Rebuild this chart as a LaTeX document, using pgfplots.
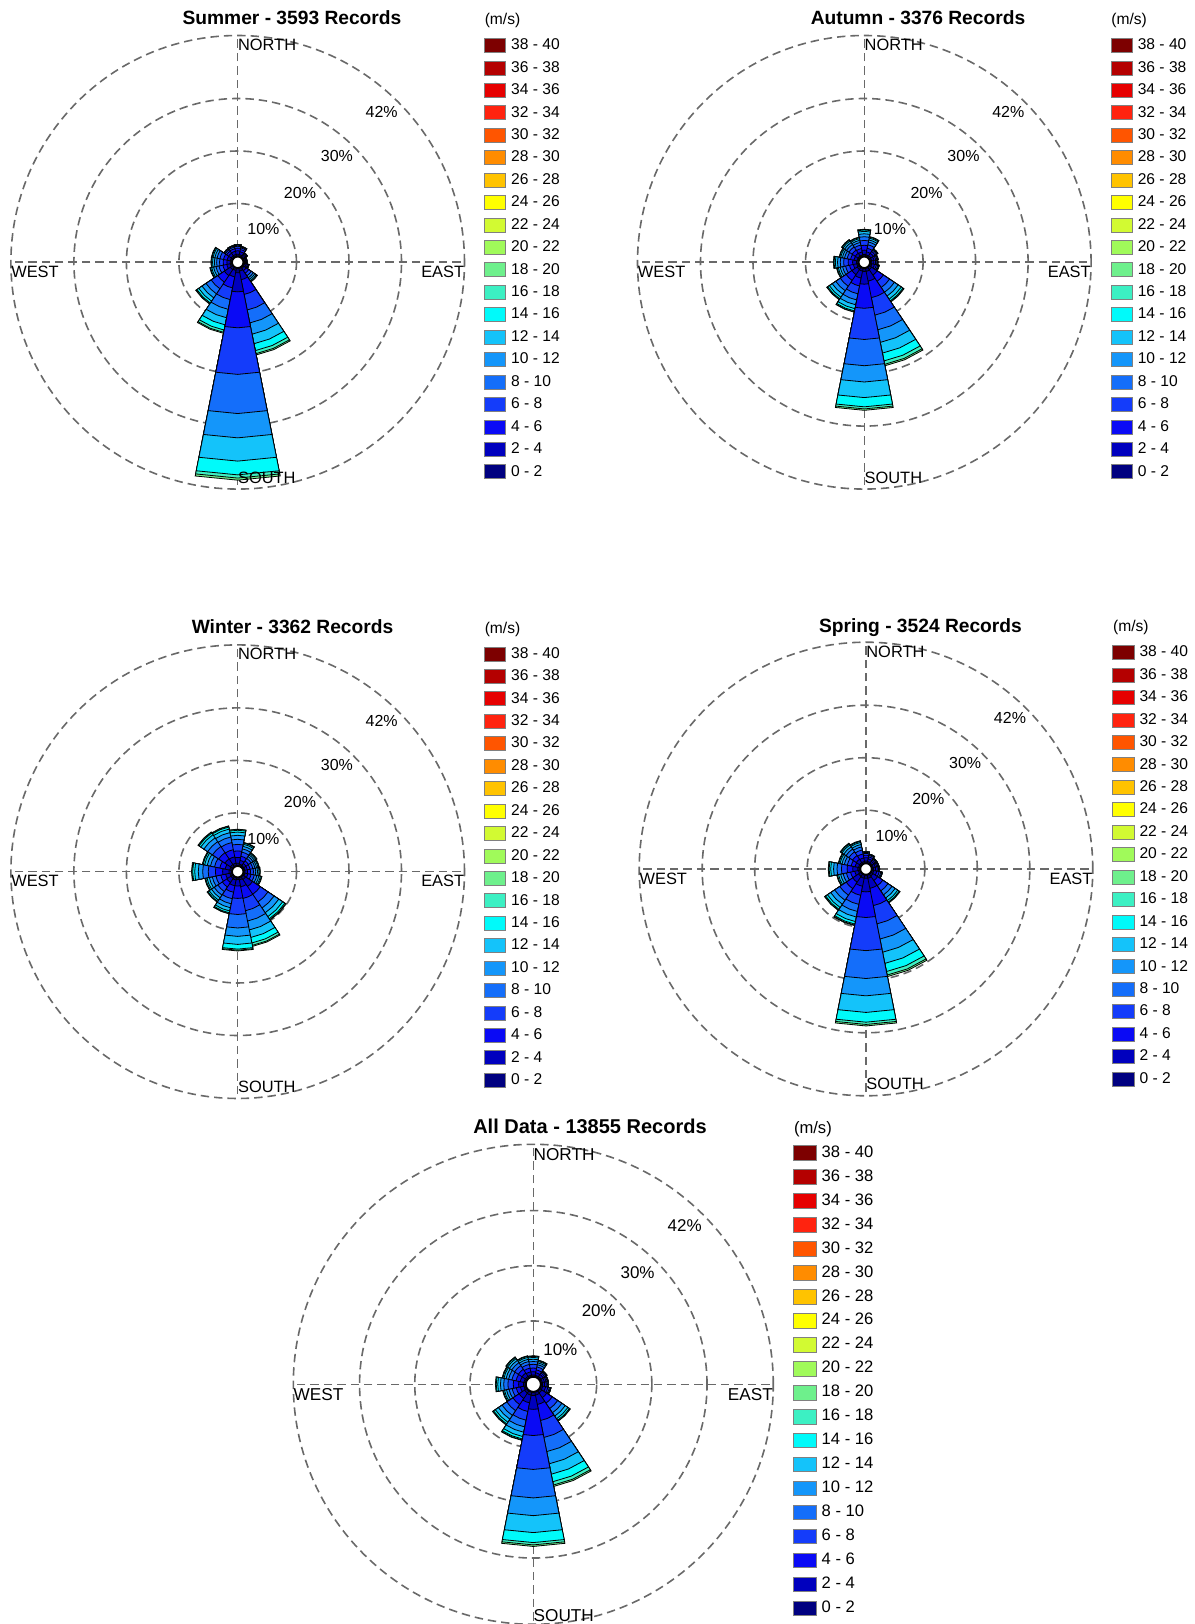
\documentclass[border=0pt]{standalone}
\usepackage{pgfplots}
\pgfplotsset{compat=1.18}
\usepackage{pgfplotstable}
\usepgfplotslibrary{polar}
\usepackage{fontspec}
\setmainfont{Liberation Sans}

\definecolor{L0}{RGB}{0,0,128}
\definecolor{L2}{RGB}{0,0,190}
\definecolor{L4}{RGB}{10,10,245}
\definecolor{L6}{RGB}{20,60,250}
\definecolor{L8}{RGB}{20,110,250}
\definecolor{L10}{RGB}{20,150,250}
\definecolor{L12}{RGB}{20,195,250}
\definecolor{L14}{RGB}{0,250,250}
\definecolor{L16}{RGB}{60,240,195}
\definecolor{L18}{RGB}{110,240,140}
\definecolor{L20}{RGB}{160,250,90}
\definecolor{L22}{RGB}{210,250,50}
\definecolor{L24}{RGB}{255,255,0}
\definecolor{L26}{RGB}{255,195,0}
\definecolor{L28}{RGB}{255,140,0}
\definecolor{L30}{RGB}{255,85,0}
\definecolor{L32}{RGB}{255,35,15}
\definecolor{L34}{RGB}{230,0,0}
\definecolor{L36}{RGB}{180,0,0}
\definecolor{L38}{RGB}{125,0,0}
\definecolor{gridgray}{RGB}{105,105,105}

% a = compass direction of the sector edge/centre (deg), c1..c10 = cumulative percent up to 2,4,...,20 m/s
\pgfplotstableread{
a c1 c2 c3 c4 c5 c6 c7 c8 c9 c10
-11.25 0 0 0 0 0 0 0 0 0 0
-11.25 0.33 0.99 1.50 1.85 2.05 2.13 2.18 2.2 2.2 2.2
0 0.33 0.99 1.50 1.85 2.05 2.13 2.18 2.2 2.2 2.2
11.25 0.33 0.99 1.50 1.85 2.05 2.13 2.18 2.2 2.2 2.2
11.25 0 0 0 0 0 0 0 0 0 0
11.25 0.29 0.86 1.29 1.60 1.77 1.84 1.88 1.9 1.9 1.9
22.5 0.29 0.86 1.29 1.60 1.77 1.84 1.88 1.9 1.9 1.9
33.75 0.29 0.86 1.29 1.60 1.77 1.84 1.88 1.9 1.9 1.9
33.75 0 0 0 0 0 0 0 0 0 0
33.75 0.15 0.45 0.68 0.84 0.93 0.97 0.99 1.0 1.0 1.0
45 0.15 0.45 0.68 0.84 0.93 0.97 0.99 1.0 1.0 1.0
56.25 0.15 0.45 0.68 0.84 0.93 0.97 0.99 1.0 1.0 1.0
56.25 0 0 0 0 0 0 0 0 0 0
56.25 0.09 0.27 0.41 0.50 0.56 0.58 0.59 0.6 0.6 0.6
67.5 0.09 0.27 0.41 0.50 0.56 0.58 0.59 0.6 0.6 0.6
78.75 0.09 0.27 0.41 0.50 0.56 0.58 0.59 0.6 0.6 0.6
78.75 0 0 0 0 0 0 0 0 0 0
78.75 0.09 0.27 0.41 0.50 0.56 0.58 0.59 0.6 0.6 0.6
90 0.09 0.27 0.41 0.50 0.56 0.58 0.59 0.6 0.6 0.6
101.25 0.09 0.27 0.41 0.50 0.56 0.58 0.59 0.6 0.6 0.6
101.25 0 0 0 0 0 0 0 0 0 0
101.25 0.15 0.45 0.68 0.84 0.93 0.97 0.99 1.0 1.0 1.0
112.5 0.15 0.45 0.68 0.84 0.93 0.97 0.99 1.0 1.0 1.0
123.75 0.15 0.45 0.68 0.84 0.93 0.97 0.99 1.0 1.0 1.0
123.75 0 0 0 0 0 0 0 0 0 0
123.75 0.20 0.73 1.32 1.91 2.38 2.74 3.04 3.20 3.27 3.3
135 0.20 0.73 1.32 1.91 2.38 2.74 3.04 3.20 3.27 3.3
146.25 0.20 0.73 1.32 1.91 2.38 2.74 3.04 3.20 3.27 3.3
146.25 0 0 0 0 0 0 0 0 0 0
146.25 0.50 2.18 5.04 8.06 10.58 12.77 14.62 15.96 16.55 16.8
157.5 0.50 2.18 5.04 8.06 10.58 12.77 14.62 15.96 16.55 16.8
168.75 0.50 2.18 5.04 8.06 10.58 12.77 14.62 15.96 16.55 16.8
168.75 0 0 0 0 0 0 0 0 0 0
168.75 0.81 4.43 11.28 20.15 27.61 32.24 36.67 39.29 39.90 40.3
180 0.81 4.43 11.28 20.15 27.61 32.24 36.67 39.29 39.90 40.3
191.25 0.81 4.43 11.28 20.15 27.61 32.24 36.67 39.29 39.90 40.3
191.25 0 0 0 0 0 0 0 0 0 0
191.25 0.38 1.64 3.78 6.05 7.94 9.58 10.96 11.97 12.41 12.6
202.5 0.38 1.64 3.78 6.05 7.94 9.58 10.96 11.97 12.41 12.6
213.75 0.38 1.64 3.78 6.05 7.94 9.58 10.96 11.97 12.41 12.6
213.75 0 0 0 0 0 0 0 0 0 0
213.75 0.50 1.85 3.36 4.87 6.05 6.97 7.73 8.15 8.32 8.4
225 0.50 1.85 3.36 4.87 6.05 6.97 7.73 8.15 8.32 8.4
236.25 0.50 1.85 3.36 4.87 6.05 6.97 7.73 8.15 8.32 8.4
236.25 0 0 0 0 0 0 0 0 0 0
236.25 0.25 0.92 1.68 2.44 3.02 3.49 3.86 4.07 4.16 4.2
247.5 0.25 0.92 1.68 2.44 3.02 3.49 3.86 4.07 4.16 4.2
258.75 0.25 0.92 1.68 2.44 3.02 3.49 3.86 4.07 4.16 4.2
258.75 0 0 0 0 0 0 0 0 0 0
258.75 0.23 0.86 1.56 2.26 2.81 3.24 3.59 3.78 3.86 3.9
270 0.23 0.86 1.56 2.26 2.81 3.24 3.59 3.78 3.86 3.9
281.25 0.23 0.86 1.56 2.26 2.81 3.24 3.59 3.78 3.86 3.9
281.25 0 0 0 0 0 0 0 0 0 0
281.25 0.23 0.86 1.56 2.26 2.81 3.24 3.59 3.78 3.86 3.9
292.5 0.23 0.86 1.56 2.26 2.81 3.24 3.59 3.78 3.86 3.9
303.75 0.23 0.86 1.56 2.26 2.81 3.24 3.59 3.78 3.86 3.9
303.75 0 0 0 0 0 0 0 0 0 0
303.75 0.30 0.90 1.36 1.68 1.86 1.94 1.98 2.0 2.0 2.0
315 0.30 0.90 1.36 1.68 1.86 1.94 1.98 2.0 2.0 2.0
326.25 0.30 0.90 1.36 1.68 1.86 1.94 1.98 2.0 2.0 2.0
326.25 0 0 0 0 0 0 0 0 0 0
326.25 0.32 0.95 1.43 1.76 1.95 2.04 2.08 2.1 2.1 2.1
337.5 0.32 0.95 1.43 1.76 1.95 2.04 2.08 2.1 2.1 2.1
348.75 0.32 0.95 1.43 1.76 1.95 2.04 2.08 2.1 2.1 2.1
}\summer

\pgfplotstableread{
a c1 c2 c3 c4 c5 c6 c7 c8 c9 c10
-11.25 0 0 0 0 0 0 0 0 0 0
-11.25 0.31 1.12 2.04 2.96 3.67 4.23 4.69 4.95 5.05 5.1
0 0.31 1.12 2.04 2.96 3.67 4.23 4.69 4.95 5.05 5.1
11.25 0.31 1.12 2.04 2.96 3.67 4.23 4.69 4.95 5.05 5.1
11.25 0 0 0 0 0 0 0 0 0 0
11.25 0.23 0.84 1.52 2.20 2.74 3.15 3.50 3.69 3.76 3.8
22.5 0.23 0.84 1.52 2.20 2.74 3.15 3.50 3.69 3.76 3.8
33.75 0.23 0.84 1.52 2.20 2.74 3.15 3.50 3.69 3.76 3.8
33.75 0 0 0 0 0 0 0 0 0 0
33.75 0.29 0.86 1.29 1.60 1.77 1.84 1.88 1.9 1.9 1.9
45 0.29 0.86 1.29 1.60 1.77 1.84 1.88 1.9 1.9 1.9
56.25 0.29 0.86 1.29 1.60 1.77 1.84 1.88 1.9 1.9 1.9
56.25 0 0 0 0 0 0 0 0 0 0
56.25 0.23 0.68 1.02 1.26 1.40 1.46 1.49 1.5 1.5 1.5
67.5 0.23 0.68 1.02 1.26 1.40 1.46 1.49 1.5 1.5 1.5
78.75 0.23 0.68 1.02 1.26 1.40 1.46 1.49 1.5 1.5 1.5
78.75 0 0 0 0 0 0 0 0 0 0
78.75 0.21 0.63 0.95 1.18 1.30 1.36 1.39 1.4 1.4 1.4
90 0.21 0.63 0.95 1.18 1.30 1.36 1.39 1.4 1.4 1.4
101.25 0.21 0.63 0.95 1.18 1.30 1.36 1.39 1.4 1.4 1.4
101.25 0 0 0 0 0 0 0 0 0 0
101.25 0.26 0.77 1.16 1.43 1.58 1.65 1.68 1.7 1.7 1.7
112.5 0.26 0.77 1.16 1.43 1.58 1.65 1.68 1.7 1.7 1.7
123.75 0.26 0.77 1.16 1.43 1.58 1.65 1.68 1.7 1.7 1.7
123.75 0 0 0 0 0 0 0 0 0 0
123.75 0.47 1.74 3.16 4.58 5.69 6.56 7.27 7.66 7.82 7.9
135 0.47 1.74 3.16 4.58 5.69 6.56 7.27 7.66 7.82 7.9
146.25 0.47 1.74 3.16 4.58 5.69 6.56 7.27 7.66 7.82 7.9
146.25 0 0 0 0 0 0 0 0 0 0
146.25 0.57 2.46 5.67 9.07 11.91 14.36 16.44 17.96 18.62 18.9
157.5 0.57 2.46 5.67 9.07 11.91 14.36 16.44 17.96 18.62 18.9
168.75 0.57 2.46 5.67 9.07 11.91 14.36 16.44 17.96 18.62 18.9
168.75 0 0 0 0 0 0 0 0 0 0
168.75 0.54 2.97 7.56 13.50 18.50 21.60 24.57 26.33 26.73 27.0
180 0.54 2.97 7.56 13.50 18.50 21.60 24.57 26.33 26.73 27.0
191.25 0.54 2.97 7.56 13.50 18.50 21.60 24.57 26.33 26.73 27.0
191.25 0 0 0 0 0 0 0 0 0 0
191.25 0.51 1.87 3.40 4.93 6.12 7.06 7.82 8.25 8.42 8.5
202.5 0.51 1.87 3.40 4.93 6.12 7.06 7.82 8.25 8.42 8.5
213.75 0.51 1.87 3.40 4.93 6.12 7.06 7.82 8.25 8.42 8.5
213.75 0 0 0 0 0 0 0 0 0 0
213.75 0.44 1.63 2.96 4.29 5.33 6.14 6.81 7.18 7.33 7.4
225 0.44 1.63 2.96 4.29 5.33 6.14 6.81 7.18 7.33 7.4
236.25 0.44 1.63 2.96 4.29 5.33 6.14 6.81 7.18 7.33 7.4
236.25 0 0 0 0 0 0 0 0 0 0
236.25 0.25 0.92 1.68 2.44 3.02 3.49 3.86 4.07 4.16 4.2
247.5 0.25 0.92 1.68 2.44 3.02 3.49 3.86 4.07 4.16 4.2
258.75 0.25 0.92 1.68 2.44 3.02 3.49 3.86 4.07 4.16 4.2
258.75 0 0 0 0 0 0 0 0 0 0
258.75 0.28 1.03 1.88 2.73 3.38 3.90 4.32 4.56 4.65 4.7
270 0.28 1.03 1.88 2.73 3.38 3.90 4.32 4.56 4.65 4.7
281.25 0.28 1.03 1.88 2.73 3.38 3.90 4.32 4.56 4.65 4.7
281.25 0 0 0 0 0 0 0 0 0 0
281.25 0.22 0.81 1.48 2.15 2.66 3.07 3.40 3.59 3.66 3.7
292.5 0.22 0.81 1.48 2.15 2.66 3.07 3.40 3.59 3.66 3.7
303.75 0.22 0.81 1.48 2.15 2.66 3.07 3.40 3.59 3.66 3.7
303.75 0 0 0 0 0 0 0 0 0 0
303.75 0.24 0.88 1.60 2.32 2.88 3.32 3.68 3.88 3.96 4.0
315 0.24 0.88 1.60 2.32 2.88 3.32 3.68 3.88 3.96 4.0
326.25 0.24 0.88 1.60 2.32 2.88 3.32 3.68 3.88 3.96 4.0
326.25 0 0 0 0 0 0 0 0 0 0
326.25 0.22 0.81 1.48 2.15 2.66 3.07 3.40 3.59 3.66 3.7
337.5 0.22 0.81 1.48 2.15 2.66 3.07 3.40 3.59 3.66 3.7
348.75 0.22 0.81 1.48 2.15 2.66 3.07 3.40 3.59 3.66 3.7
}\autumn

\pgfplotstableread{
a c1 c2 c3 c4 c5 c6 c7 c8 c9 c10
-11.25 0 0 0 0 0 0 0 0 0 0
-11.25 0.41 1.52 2.76 4.00 4.97 5.73 6.35 6.69 6.83 6.9
0 0.41 1.52 2.76 4.00 4.97 5.73 6.35 6.69 6.83 6.9
11.25 0.41 1.52 2.76 4.00 4.97 5.73 6.35 6.69 6.83 6.9
11.25 0 0 0 0 0 0 0 0 0 0
11.25 0.27 0.99 1.80 2.61 3.24 3.74 4.14 4.37 4.46 4.5
22.5 0.27 0.99 1.80 2.61 3.24 3.74 4.14 4.37 4.46 4.5
33.75 0.27 0.99 1.80 2.61 3.24 3.74 4.14 4.37 4.46 4.5
33.75 0 0 0 0 0 0 0 0 0 0
33.75 0.19 0.70 1.28 1.86 2.30 2.66 2.94 3.10 3.17 3.2
45 0.19 0.70 1.28 1.86 2.30 2.66 2.94 3.10 3.17 3.2
56.25 0.19 0.70 1.28 1.86 2.30 2.66 2.94 3.10 3.17 3.2
56.25 0 0 0 0 0 0 0 0 0 0
56.25 0.18 0.66 1.20 1.74 2.16 2.49 2.76 2.91 2.97 3.0
67.5 0.18 0.66 1.20 1.74 2.16 2.49 2.76 2.91 2.97 3.0
78.75 0.18 0.66 1.20 1.74 2.16 2.49 2.76 2.91 2.97 3.0
78.75 0 0 0 0 0 0 0 0 0 0
78.75 0.19 0.68 1.24 1.80 2.23 2.57 2.85 3.01 3.07 3.1
90 0.19 0.68 1.24 1.80 2.23 2.57 2.85 3.01 3.07 3.1
101.25 0.19 0.68 1.24 1.80 2.23 2.57 2.85 3.01 3.07 3.1
101.25 0 0 0 0 0 0 0 0 0 0
101.25 0.21 0.77 1.40 2.03 2.52 2.91 3.22 3.40 3.47 3.5
112.5 0.21 0.77 1.40 2.03 2.52 2.91 3.22 3.40 3.47 3.5
123.75 0.21 0.77 1.40 2.03 2.52 2.91 3.22 3.40 3.47 3.5
123.75 0 0 0 0 0 0 0 0 0 0
123.75 0.59 2.18 3.96 5.74 7.13 8.22 9.11 9.60 9.80 9.9
135 0.59 2.18 3.96 5.74 7.13 8.22 9.11 9.60 9.80 9.9
146.25 0.59 2.18 3.96 5.74 7.13 8.22 9.11 9.60 9.80 9.9
146.25 0 0 0 0 0 0 0 0 0 0
146.25 0.40 1.73 3.99 6.38 8.38 10.11 11.57 12.64 13.10 13.3
157.5 0.40 1.73 3.99 6.38 8.38 10.11 11.57 12.64 13.10 13.3
168.75 0.40 1.73 3.99 6.38 8.38 10.11 11.57 12.64 13.10 13.3
168.75 0 0 0 0 0 0 0 0 0 0
168.75 0.28 1.53 3.89 6.95 9.52 11.12 12.65 13.55 13.76 13.9
180 0.28 1.53 3.89 6.95 9.52 11.12 12.65 13.55 13.76 13.9
191.25 0.28 1.53 3.89 6.95 9.52 11.12 12.65 13.55 13.76 13.9
191.25 0 0 0 0 0 0 0 0 0 0
191.25 0.42 1.54 2.80 4.06 5.04 5.81 6.44 6.79 6.93 7.0
202.5 0.42 1.54 2.80 4.06 5.04 5.81 6.44 6.79 6.93 7.0
213.75 0.42 1.54 2.80 4.06 5.04 5.81 6.44 6.79 6.93 7.0
213.75 0 0 0 0 0 0 0 0 0 0
213.75 0.35 1.28 2.32 3.36 4.18 4.81 5.34 5.63 5.74 5.8
225 0.35 1.28 2.32 3.36 4.18 4.81 5.34 5.63 5.74 5.8
236.25 0.35 1.28 2.32 3.36 4.18 4.81 5.34 5.63 5.74 5.8
236.25 0 0 0 0 0 0 0 0 0 0
236.25 0.31 1.14 2.08 3.02 3.74 4.32 4.78 5.04 5.15 5.2
247.5 0.31 1.14 2.08 3.02 3.74 4.32 4.78 5.04 5.15 5.2
258.75 0.31 1.14 2.08 3.02 3.74 4.32 4.78 5.04 5.15 5.2
258.75 0 0 0 0 0 0 0 0 0 0
258.75 0.46 1.67 3.04 4.41 5.47 6.31 6.99 7.37 7.52 7.6
270 0.46 1.67 3.04 4.41 5.47 6.31 6.99 7.37 7.52 7.6
281.25 0.46 1.67 3.04 4.41 5.47 6.31 6.99 7.37 7.52 7.6
281.25 0 0 0 0 0 0 0 0 0 0
281.25 0.34 1.25 2.28 3.31 4.10 4.73 5.24 5.53 5.64 5.7
292.5 0.34 1.25 2.28 3.31 4.10 4.73 5.24 5.53 5.64 5.7
303.75 0.34 1.25 2.28 3.31 4.10 4.73 5.24 5.53 5.64 5.7
303.75 0 0 0 0 0 0 0 0 0 0
303.75 0.47 1.74 3.16 4.58 5.69 6.56 7.27 7.66 7.82 7.9
315 0.47 1.74 3.16 4.58 5.69 6.56 7.27 7.66 7.82 7.9
326.25 0.47 1.74 3.16 4.58 5.69 6.56 7.27 7.66 7.82 7.9
326.25 0 0 0 0 0 0 0 0 0 0
326.25 0.46 1.69 3.08 4.47 5.54 6.39 7.08 7.47 7.62 7.7
337.5 0.46 1.69 3.08 4.47 5.54 6.39 7.08 7.47 7.62 7.7
348.75 0.46 1.69 3.08 4.47 5.54 6.39 7.08 7.47 7.62 7.7
}\winter

\pgfplotstableread{
a c1 c2 c3 c4 c5 c6 c7 c8 c9 c10
-11.25 0 0 0 0 0 0 0 0 0 0
-11.25 0.32 0.95 1.43 1.76 1.95 2.04 2.08 2.1 2.1 2.1
0 0.32 0.95 1.43 1.76 1.95 2.04 2.08 2.1 2.1 2.1
11.25 0.32 0.95 1.43 1.76 1.95 2.04 2.08 2.1 2.1 2.1
11.25 0 0 0 0 0 0 0 0 0 0
11.25 0.26 0.77 1.16 1.43 1.58 1.65 1.68 1.7 1.7 1.7
22.5 0.26 0.77 1.16 1.43 1.58 1.65 1.68 1.7 1.7 1.7
33.75 0.26 0.77 1.16 1.43 1.58 1.65 1.68 1.7 1.7 1.7
33.75 0 0 0 0 0 0 0 0 0 0
33.75 0.20 0.59 0.88 1.09 1.21 1.26 1.29 1.3 1.3 1.3
45 0.20 0.59 0.88 1.09 1.21 1.26 1.29 1.3 1.3 1.3
56.25 0.20 0.59 0.88 1.09 1.21 1.26 1.29 1.3 1.3 1.3
56.25 0 0 0 0 0 0 0 0 0 0
56.25 0.20 0.59 0.88 1.09 1.21 1.26 1.29 1.3 1.3 1.3
67.5 0.20 0.59 0.88 1.09 1.21 1.26 1.29 1.3 1.3 1.3
78.75 0.20 0.59 0.88 1.09 1.21 1.26 1.29 1.3 1.3 1.3
78.75 0 0 0 0 0 0 0 0 0 0
78.75 0.21 0.63 0.95 1.18 1.30 1.36 1.39 1.4 1.4 1.4
90 0.21 0.63 0.95 1.18 1.30 1.36 1.39 1.4 1.4 1.4
101.25 0.21 0.63 0.95 1.18 1.30 1.36 1.39 1.4 1.4 1.4
101.25 0 0 0 0 0 0 0 0 0 0
101.25 0.30 0.90 1.36 1.68 1.86 1.94 1.98 2.0 2.0 2.0
112.5 0.30 0.90 1.36 1.68 1.86 1.94 1.98 2.0 2.0 2.0
123.75 0.30 0.90 1.36 1.68 1.86 1.94 1.98 2.0 2.0 2.0
123.75 0 0 0 0 0 0 0 0 0 0
123.75 0.40 1.45 2.64 3.83 4.75 5.48 6.07 6.40 6.53 6.6
135 0.40 1.45 2.64 3.83 4.75 5.48 6.07 6.40 6.53 6.6
146.25 0.40 1.45 2.64 3.83 4.75 5.48 6.07 6.40 6.53 6.6
146.25 0 0 0 0 0 0 0 0 0 0
146.25 0.59 2.56 5.91 9.46 12.41 14.97 17.14 18.72 19.40 19.7
157.5 0.59 2.56 5.91 9.46 12.41 14.97 17.14 18.72 19.40 19.7
168.75 0.59 2.56 5.91 9.46 12.41 14.97 17.14 18.72 19.40 19.7
168.75 0 0 0 0 0 0 0 0 0 0
168.75 0.57 3.16 8.04 14.35 19.66 22.96 26.12 27.98 28.41 28.7
180 0.57 3.16 8.04 14.35 19.66 22.96 26.12 27.98 28.41 28.7
191.25 0.57 3.16 8.04 14.35 19.66 22.96 26.12 27.98 28.41 28.7
191.25 0 0 0 0 0 0 0 0 0 0
191.25 0.59 2.16 3.92 5.68 7.06 8.13 9.02 9.51 9.70 9.8
202.5 0.59 2.16 3.92 5.68 7.06 8.13 9.02 9.51 9.70 9.8
213.75 0.59 2.16 3.92 5.68 7.06 8.13 9.02 9.51 9.70 9.8
213.75 0 0 0 0 0 0 0 0 0 0
213.75 0.50 1.83 3.32 4.81 5.98 6.89 7.64 8.05 8.22 8.3
225 0.50 1.83 3.32 4.81 5.98 6.89 7.64 8.05 8.22 8.3
236.25 0.50 1.83 3.32 4.81 5.98 6.89 7.64 8.05 8.22 8.3
236.25 0 0 0 0 0 0 0 0 0 0
236.25 0.27 0.99 1.80 2.61 3.24 3.74 4.14 4.37 4.46 4.5
247.5 0.27 0.99 1.80 2.61 3.24 3.74 4.14 4.37 4.46 4.5
258.75 0.27 0.99 1.80 2.61 3.24 3.74 4.14 4.37 4.46 4.5
258.75 0 0 0 0 0 0 0 0 0 0
258.75 0.36 1.32 2.40 3.48 4.32 4.98 5.52 5.82 5.94 6.0
270 0.36 1.32 2.40 3.48 4.32 4.98 5.52 5.82 5.94 6.0
281.25 0.36 1.32 2.40 3.48 4.32 4.98 5.52 5.82 5.94 6.0
281.25 0 0 0 0 0 0 0 0 0 0
281.25 0.25 0.92 1.68 2.44 3.02 3.49 3.86 4.07 4.16 4.2
292.5 0.25 0.92 1.68 2.44 3.02 3.49 3.86 4.07 4.16 4.2
303.75 0.25 0.92 1.68 2.44 3.02 3.49 3.86 4.07 4.16 4.2
303.75 0 0 0 0 0 0 0 0 0 0
303.75 0.28 1.03 1.88 2.73 3.38 3.90 4.32 4.56 4.65 4.7
315 0.28 1.03 1.88 2.73 3.38 3.90 4.32 4.56 4.65 4.7
326.25 0.28 1.03 1.88 2.73 3.38 3.90 4.32 4.56 4.65 4.7
326.25 0 0 0 0 0 0 0 0 0 0
326.25 0.26 0.95 1.72 2.49 3.10 3.57 3.96 4.17 4.26 4.3
337.5 0.26 0.95 1.72 2.49 3.10 3.57 3.96 4.17 4.26 4.3
348.75 0.26 0.95 1.72 2.49 3.10 3.57 3.96 4.17 4.26 4.3
}\spring

\pgfplotstableread{
a c1 c2 c3 c4 c5 c6 c7 c8 c9 c10
-11.25 0 0 0 0 0 0 0 0 0 0
-11.25 0.22 0.81 1.48 2.15 2.66 3.07 3.40 3.59 3.66 3.7
0 0.22 0.81 1.48 2.15 2.66 3.07 3.40 3.59 3.66 3.7
11.25 0.22 0.81 1.48 2.15 2.66 3.07 3.40 3.59 3.66 3.7
11.25 0 0 0 0 0 0 0 0 0 0
11.25 0.18 0.66 1.20 1.74 2.16 2.49 2.76 2.91 2.97 3.0
22.5 0.18 0.66 1.20 1.74 2.16 2.49 2.76 2.91 2.97 3.0
33.75 0.18 0.66 1.20 1.74 2.16 2.49 2.76 2.91 2.97 3.0
33.75 0 0 0 0 0 0 0 0 0 0
33.75 0.23 0.68 1.02 1.26 1.40 1.46 1.49 1.5 1.5 1.5
45 0.23 0.68 1.02 1.26 1.40 1.46 1.49 1.5 1.5 1.5
56.25 0.23 0.68 1.02 1.26 1.40 1.46 1.49 1.5 1.5 1.5
56.25 0 0 0 0 0 0 0 0 0 0
56.25 0.20 0.59 0.88 1.09 1.21 1.26 1.29 1.3 1.3 1.3
67.5 0.20 0.59 0.88 1.09 1.21 1.26 1.29 1.3 1.3 1.3
78.75 0.20 0.59 0.88 1.09 1.21 1.26 1.29 1.3 1.3 1.3
78.75 0 0 0 0 0 0 0 0 0 0
78.75 0.20 0.59 0.88 1.09 1.21 1.26 1.29 1.3 1.3 1.3
90 0.20 0.59 0.88 1.09 1.21 1.26 1.29 1.3 1.3 1.3
101.25 0.20 0.59 0.88 1.09 1.21 1.26 1.29 1.3 1.3 1.3
101.25 0 0 0 0 0 0 0 0 0 0
101.25 0.27 0.81 1.22 1.51 1.67 1.75 1.78 1.8 1.8 1.8
112.5 0.27 0.81 1.22 1.51 1.67 1.75 1.78 1.8 1.8 1.8
123.75 0.27 0.81 1.22 1.51 1.67 1.75 1.78 1.8 1.8 1.8
123.75 0 0 0 0 0 0 0 0 0 0
123.75 0.40 1.45 2.64 3.83 4.75 5.48 6.07 6.40 6.53 6.6
135 0.40 1.45 2.64 3.83 4.75 5.48 6.07 6.40 6.53 6.6
146.25 0.40 1.45 2.64 3.83 4.75 5.48 6.07 6.40 6.53 6.6
146.25 0 0 0 0 0 0 0 0 0 0
146.25 0.52 2.26 5.22 8.35 10.96 13.22 15.14 16.53 17.14 17.4
157.5 0.52 2.26 5.22 8.35 10.96 13.22 15.14 16.53 17.14 17.4
168.75 0.52 2.26 5.22 8.35 10.96 13.22 15.14 16.53 17.14 17.4
168.75 0 0 0 0 0 0 0 0 0 0
168.75 0.56 3.07 7.81 13.95 19.11 22.32 25.39 27.20 27.62 27.9
180 0.56 3.07 7.81 13.95 19.11 22.32 25.39 27.20 27.62 27.9
191.25 0.56 3.07 7.81 13.95 19.11 22.32 25.39 27.20 27.62 27.9
191.25 0 0 0 0 0 0 0 0 0 0
191.25 0.53 1.96 3.56 5.16 6.41 7.39 8.19 8.63 8.81 8.9
202.5 0.53 1.96 3.56 5.16 6.41 7.39 8.19 8.63 8.81 8.9
213.75 0.53 1.96 3.56 5.16 6.41 7.39 8.19 8.63 8.81 8.9
213.75 0 0 0 0 0 0 0 0 0 0
213.75 0.44 1.63 2.96 4.29 5.33 6.14 6.81 7.18 7.33 7.4
225 0.44 1.63 2.96 4.29 5.33 6.14 6.81 7.18 7.33 7.4
236.25 0.44 1.63 2.96 4.29 5.33 6.14 6.81 7.18 7.33 7.4
236.25 0 0 0 0 0 0 0 0 0 0
236.25 0.25 0.92 1.68 2.44 3.02 3.49 3.86 4.07 4.16 4.2
247.5 0.25 0.92 1.68 2.44 3.02 3.49 3.86 4.07 4.16 4.2
258.75 0.25 0.92 1.68 2.44 3.02 3.49 3.86 4.07 4.16 4.2
258.75 0 0 0 0 0 0 0 0 0 0
258.75 0.32 1.19 2.16 3.13 3.89 4.48 4.97 5.24 5.35 5.4
270 0.32 1.19 2.16 3.13 3.89 4.48 4.97 5.24 5.35 5.4
281.25 0.32 1.19 2.16 3.13 3.89 4.48 4.97 5.24 5.35 5.4
281.25 0 0 0 0 0 0 0 0 0 0
281.25 0.26 0.95 1.72 2.49 3.10 3.57 3.96 4.17 4.26 4.3
292.5 0.26 0.95 1.72 2.49 3.10 3.57 3.96 4.17 4.26 4.3
303.75 0.26 0.95 1.72 2.49 3.10 3.57 3.96 4.17 4.26 4.3
303.75 0 0 0 0 0 0 0 0 0 0
303.75 0.27 0.99 1.80 2.61 3.24 3.74 4.14 4.37 4.46 4.5
315 0.27 0.99 1.80 2.61 3.24 3.74 4.14 4.37 4.46 4.5
326.25 0.27 0.99 1.80 2.61 3.24 3.74 4.14 4.37 4.46 4.5
326.25 0 0 0 0 0 0 0 0 0 0
326.25 0.23 0.84 1.52 2.20 2.74 3.15 3.50 3.69 3.76 3.8
337.5 0.23 0.84 1.52 2.20 2.74 3.15 3.50 3.69 3.76 3.8
348.75 0.23 0.84 1.52 2.20 2.74 3.15 3.50 3.69 3.76 3.8
}\alldata

\pgfplotsset{
  rose/.style={
    scale only axis, anchor=center,
    ymin=0, xmin=0, xmax=360,
    xtick={0,90,180,270}, xticklabels={}, yticklabels={},
    major tick length=0pt,
    grid=major,
    grid style={dash pattern=on 4.2pt off 2.5pt, color=gridgray, line width=0.8pt},
    axis line style={draw=none},
    clip=false,
    legend cell align=left,
    legend style={anchor=north west, draw=none, fill=none, inner sep=0pt, outer sep=0pt, column sep=2.5pt},
  },
  legA/.style={
    legend image code/.code={\draw[##1] (0pt,-3.5pt) rectangle (10.7pt,3.5pt);},
    legend style={row sep=3.82pt, font=\fontsize{7.8}{8}\selectfont,
      nodes={inner sep=0pt, text height=5.6pt, text depth=1.4pt}},
  },
  legB/.style={
    legend image code/.code={\draw[##1] (0pt,-3.7pt) rectangle (11.35pt,3.7pt);},
    legend style={row sep=4.19pt, font=\fontsize{8.3}{8.5}\selectfont,
      nodes={inner sep=0pt, text height=5.9pt, text depth=1.5pt}},
  },
}

\newcommand{\bands}[3]{%
  \addplot[forget plot, fill=L18, draw=black, line width=0.4pt] table[x expr=90-\thisrow{a}, y expr=\thisrow{c10}+#2] {#1} -- cycle;
  \addplot[forget plot, fill=L16, draw=black, line width=0.4pt] table[x expr=90-\thisrow{a}, y expr=\thisrow{c9}+#2] {#1} -- cycle;
  \addplot[forget plot, fill=L14, draw=black, line width=0.4pt] table[x expr=90-\thisrow{a}, y expr=\thisrow{c8}+#2] {#1} -- cycle;
  \addplot[forget plot, fill=L12, draw=black, line width=0.4pt] table[x expr=90-\thisrow{a}, y expr=\thisrow{c7}+#2] {#1} -- cycle;
  \addplot[forget plot, fill=L10, draw=black, line width=0.4pt] table[x expr=90-\thisrow{a}, y expr=\thisrow{c6}+#2] {#1} -- cycle;
  \addplot[forget plot, fill=L8, draw=black, line width=0.4pt] table[x expr=90-\thisrow{a}, y expr=\thisrow{c5}+#2] {#1} -- cycle;
  \addplot[forget plot, fill=L6, draw=black, line width=0.4pt] table[x expr=90-\thisrow{a}, y expr=\thisrow{c4}+#2] {#1} -- cycle;
  \addplot[forget plot, fill=L4, draw=black, line width=0.4pt] table[x expr=90-\thisrow{a}, y expr=\thisrow{c3}+#2] {#1} -- cycle;
  \addplot[forget plot, fill=L2, draw=black, line width=0.4pt] table[x expr=90-\thisrow{a}, y expr=\thisrow{c2}+#2] {#1} -- cycle;
  \addplot[forget plot, fill=L0, draw=black, line width=0.4pt] table[x expr=90-\thisrow{a}, y expr=\thisrow{c1}+#2] {#1} -- cycle;
  \draw[fill=white, draw=black, line width=1pt] (axis cs:0,0) circle[radius=#3];
}

% #1 negative shift of the header, #2 raise of the header
\newcommand{\windlegend}[2]{%
  \addlegendimage{empty legend}\addlegendentry{\hspace*{-#1}\raisebox{#2}{(m/s)}}
  \addlegendimage{fill=L38,draw=gray}\addlegendentry{38 - 40}
  \addlegendimage{fill=L36,draw=gray}\addlegendentry{36 - 38}
  \addlegendimage{fill=L34,draw=gray}\addlegendentry{34 - 36}
  \addlegendimage{fill=L32,draw=gray}\addlegendentry{32 - 34}
  \addlegendimage{fill=L30,draw=gray}\addlegendentry{30 - 32}
  \addlegendimage{fill=L28,draw=gray}\addlegendentry{28 - 30}
  \addlegendimage{fill=L26,draw=gray}\addlegendentry{26 - 28}
  \addlegendimage{fill=L24,draw=gray}\addlegendentry{24 - 26}
  \addlegendimage{fill=L22,draw=gray}\addlegendentry{22 - 24}
  \addlegendimage{fill=L20,draw=gray}\addlegendentry{20 - 22}
  \addlegendimage{fill=L18,draw=gray}\addlegendentry{18 - 20}
  \addlegendimage{fill=L16,draw=gray}\addlegendentry{16 - 18}
  \addlegendimage{fill=L14,draw=gray}\addlegendentry{14 - 16}
  \addlegendimage{fill=L12,draw=gray}\addlegendentry{12 - 14}
  \addlegendimage{fill=L10,draw=gray}\addlegendentry{10 - 12}
  \addlegendimage{fill=L8,draw=gray}\addlegendentry{8 - 10}
  \addlegendimage{fill=L6,draw=gray}\addlegendentry{6 - 8}
  \addlegendimage{fill=L4,draw=gray}\addlegendentry{4 - 6}
  \addlegendimage{fill=L2,draw=gray}\addlegendentry{2 - 4}
  \addlegendimage{fill=L0,draw=gray}\addlegendentry{0 - 2}
}

% #1 ymax, #2 shift N/W/E, #3 shift S, #4 compass font, #5 percent font
\newcommand{\rosetext}[5]{%
  \node[anchor=west, inner sep=0pt, font=\fontsize{#4}{#4}\selectfont, yshift=-#2] at (axis cs:90,#1) {NORTH};
  \node[anchor=west, inner sep=0pt, font=\fontsize{#4}{#4}\selectfont, yshift=#3] at (axis cs:270,#1) {SOUTH};
  \node[anchor=west, inner sep=0pt, font=\fontsize{#4}{#4}\selectfont, yshift=-#2] at (axis cs:180,#1) {WEST};
  \node[anchor=east, inner sep=0pt, font=\fontsize{#4}{#4}\selectfont, yshift=-#2] at (axis cs:0,#1) {EAST};
  \node[inner sep=0pt, font=\fontsize{#5}{#5}\selectfont] at (axis cs:52,7.95) {10\%};
  \node[inner sep=0pt, font=\fontsize{#5}{#5}\selectfont] at (axis cs:48.2,17.8) {20\%};
  \node[inner sep=0pt, font=\fontsize{#5}{#5}\selectfont] at (axis cs:47,27.7) {30\%};
  \node[inner sep=0pt, font=\fontsize{#5}{#5}\selectfont] at (axis cs:46.3,39.7) {42\%};
}

\begin{document}
\begin{tikzpicture}
\path[use as bounding box] (0,0) rectangle (597.5pt,812pt);

\node[anchor=base, font=\fontsize{9.6}{10}\selectfont\bfseries] at (146pt,799.55pt) {Summer - 3593 Records};
\node[anchor=base, font=\fontsize{9.6}{10}\selectfont\bfseries] at (459pt,799.55pt) {Autumn - 3376 Records};
\node[anchor=base, font=\fontsize{9.6}{10}\selectfont\bfseries] at (146.25pt,495.2pt) {Winter - 3362 Records};
\node[anchor=base, font=\fontsize{9.6}{10}\selectfont\bfseries] at (460.25pt,495.55pt) {Spring - 3524 Records};
\node[anchor=base, font=\fontsize{10}{10}\selectfont\bfseries] at (295pt,245.4pt) {All Data - 13855 Records};

\begin{polaraxis}[rose, legA, at={(118.85pt,680.85pt)}, width=226.8pt, height=226.8pt,
  ymax=43.2, ytick={11.2,21.2,31.2,43.2}, legend style={at={(1.043,1.042)}}]
  \bands{\summer}{1.2}{2.9pt}
  \windlegend{13.2pt}{1.55pt}
  \rosetext{43.2}{4.7pt}{5.85pt}{8.2}{8}
\end{polaraxis}

\begin{polaraxis}[rose, legA, at={(432.15pt,680.85pt)}, width=226.8pt, height=226.8pt,
  ymax=43.2, ytick={11.2,21.2,31.2,43.2}, legend style={at={(1.043,1.042)}}]
  \bands{\autumn}{1.2}{2.9pt}
  \windlegend{13.2pt}{1.55pt}
  \rosetext{43.2}{4.7pt}{5.85pt}{8.2}{8}
\end{polaraxis}

\begin{polaraxis}[rose, legA, at={(118.85pt,376.15pt)}, width=226.8pt, height=226.8pt,
  ymax=43.2, ytick={11.2,21.2,31.2,43.2}, legend style={at={(1.043,1.044)}}]
  \bands{\winter}{1.2}{2.9pt}
  \windlegend{13.2pt}{1.55pt}
  \rosetext{43.2}{4.7pt}{5.85pt}{8.2}{8}
\end{polaraxis}

\begin{polaraxis}[rose, legA, at={(433pt,377.5pt)}, width=226.8pt, height=226.8pt,
  ymax=43.2, ytick={11.2,21.2,31.2,43.2}, legend style={at={(1.043,1.041)}}]
  \bands{\spring}{1.2}{2.9pt}
  \windlegend{13.2pt}{1.55pt}
  \rosetext{43.2}{4.7pt}{5.85pt}{8.2}{8}
\end{polaraxis}

\begin{polaraxis}[rose, legB, at={(266.65pt,119.85pt)}, width=240pt, height=240pt,
  ymax=43.47, ytick={11.47,21.47,31.47,43.47}, legend style={at={(1.0415,1.047)}}]
  \bands{\alldata}{1.47}{3.8pt}
  \windlegend{13.85pt}{0pt}
  \rosetext{43.47}{5.35pt}{4.5pt}{8.6}{8.5}
\end{polaraxis}
\end{tikzpicture}
\end{document}
